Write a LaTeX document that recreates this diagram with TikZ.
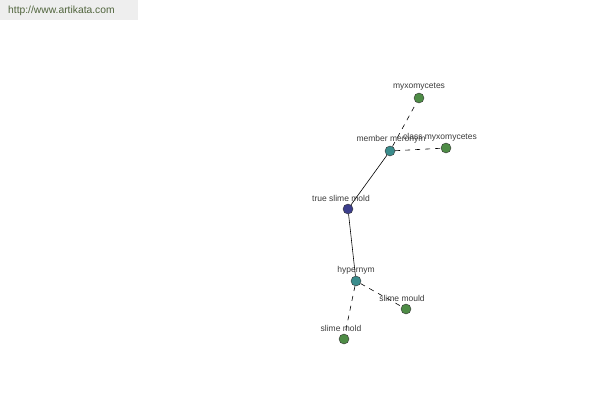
\documentclass[tikz,border=0pt]{standalone}
\usepackage{fontspec}
\setmainfont{Liberation Sans}
\definecolor{leafgreen}{RGB}{78,140,70}
\definecolor{tealnode}{RGB}{58,140,140}
\definecolor{navynode}{RGB}{60,62,140}
\definecolor{bannergray}{RGB}{238,238,238}
\definecolor{bannertext}{RGB}{80,100,60}
\definecolor{labelgray}{RGB}{60,60,60}
\begin{document}
\begin{tikzpicture}[x=1pt,y=-1pt,
  dot/.style={circle,draw=black!80,line width=0.4pt,minimum size=10pt,inner sep=0pt},
  lbl/.style={font=\fontsize{8.5}{9}\selectfont,text=labelgray,inner sep=0pt},
  rel/.style={line width=0.6pt},
  reldash/.style={line width=0.6pt,dashed,dash pattern=on 5pt off 5pt}]
\useasboundingbox (0,0) rectangle (600,400);
\fill[white] (0,0) rectangle (600,400);
\fill[bannergray] (0,0) rectangle (138,20);
\node[anchor=west,font=\fontsize{10.3}{12}\selectfont,text=bannertext,inner sep=0pt] (banner) at (8,11) {http://www.artikata.com};
% nodes
\node[dot,fill=leafgreen] (myxo) at (419,98) {};
\node[dot,fill=tealnode] (mem) at (390,151) {};
\node[dot,fill=leafgreen] (cls) at (446,148) {};
\node[dot,fill=navynode] (tsm) at (348,209) {};
\node[dot,fill=tealnode] (hyp) at (356,281) {};
\node[dot,fill=leafgreen] (smou) at (406,309) {};
\node[dot,fill=leafgreen] (smol) at (344,339) {};
% edges
\draw[rel] (tsm) -- (mem);
\draw[rel] (tsm) -- (hyp);
\draw[reldash] (mem) -- (myxo);
\draw[reldash] (mem) -- (cls);
\draw[reldash] (hyp) -- (smou);
\draw[reldash] (hyp) -- (smol);
% labels
\node[lbl] (lmyxo) at (419,87) {myxomycetes};
\node[lbl] (lmem) at (391,139) {member meronym};
\node[lbl] (lcls) at (440,137) {class myxomycetes};
\node[lbl] (ltsm) at (341,198) {true slime mold};
\node[lbl] (lhyp) at (356,270) {hypernym};
\node[lbl] (lsmou) at (402,298) {slime mould};
\node[lbl] (lsmol) at (341,328) {slime mold};
\end{tikzpicture}
\end{document}
